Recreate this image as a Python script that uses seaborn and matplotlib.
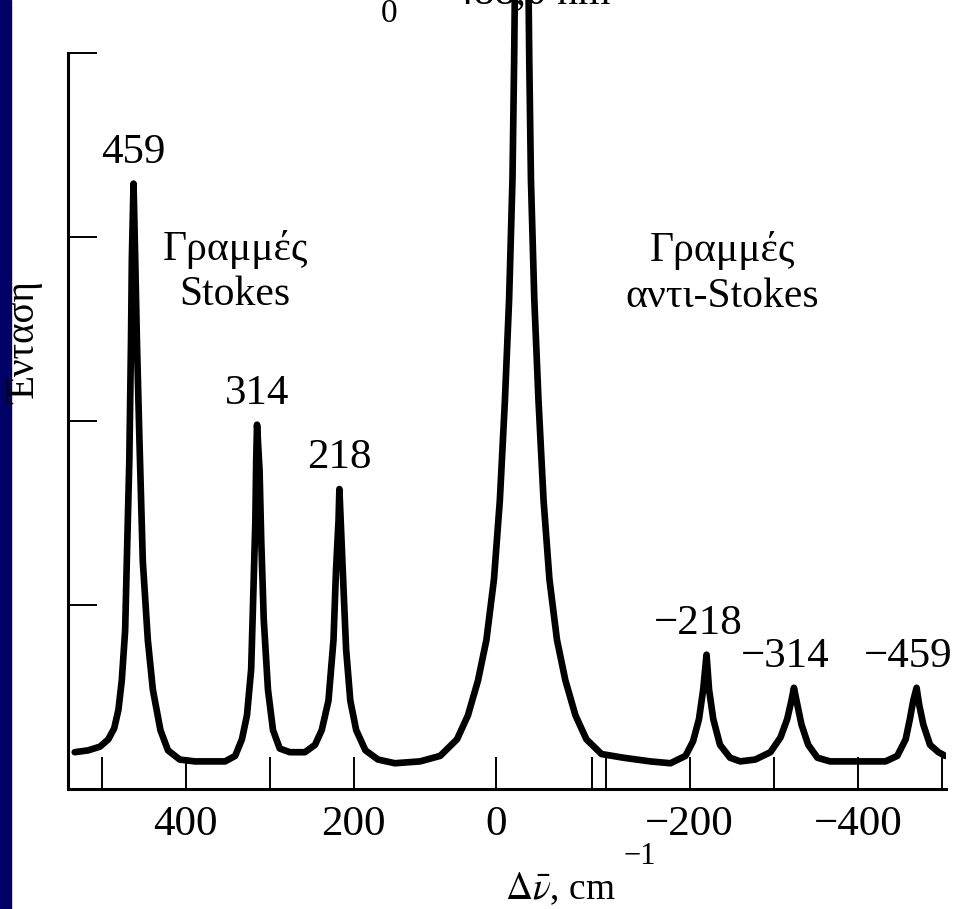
import pandas as pd
import seaborn as sns
import matplotlib.pyplot as plt
from matplotlib.patches import Rectangle

# Raman spectrum (shift in cm^-1, intensity in tick units)
shift = [532, 516, 502, 492, 485, 480, 476, 472, 470, 467, 465, 464, 462, 460, 458,
         455, 451, 445, 439, 430, 421, 407, 389, 353, 341, 333, 327, 322, 320, 317,
         316, 315, 312, 310, 307, 302, 296, 288, 276, 258, 246, 238, 230, 224, 221,
         218, 217, 215, 212, 209, 204, 197, 186, 171, 151, 121, 97, 77, 64, 52,
         42, 33, 26, 20, 15, 11, 9, 8, -8, -9, -11, -15, -20, -26, -33,
         -42, -52, -64, -77, -95, -121, -153, -177, -195, -204, -211, -216, -220, -223, -228,
         -236, -248, -260, -278, -296, -308, -316, -321, -324, -328, -333, -341, -352, -367, -433,
         -447, -457, -462, -466, -470, -473, -478, -486, -496, -504]
intensity = [0.20, 0.21, 0.23, 0.27, 0.33, 0.43, 0.59, 0.86, 1.24, 1.79, 2.44, 2.88, 3.29, 2.88, 2.44,
             1.90, 1.24, 0.81, 0.54, 0.32, 0.21, 0.16, 0.15, 0.15, 0.18, 0.27, 0.40, 0.65, 0.97, 1.46,
             1.79, 1.98, 1.73, 1.35, 0.92, 0.54, 0.32, 0.22, 0.20, 0.20, 0.24, 0.32, 0.48, 0.81, 1.19,
             1.46, 1.63, 1.41, 1.08, 0.76, 0.48, 0.32, 0.21, 0.16, 0.14, 0.15, 0.18, 0.27, 0.40, 0.59,
             0.81, 1.14, 1.57, 2.11, 2.66, 3.31, 3.96, 4.40, 4.40, 3.96, 3.31, 2.66, 2.11, 1.57, 1.14,
             0.81, 0.59, 0.40, 0.27, 0.19, 0.17, 0.15, 0.14, 0.18, 0.26, 0.38, 0.54, 0.73, 0.54, 0.38,
             0.24, 0.17, 0.15, 0.16, 0.20, 0.28, 0.38, 0.48, 0.55, 0.46, 0.35, 0.24, 0.17, 0.15, 0.15,
             0.18, 0.27, 0.38, 0.48, 0.55, 0.46, 0.35, 0.24, 0.20, 0.18]

peak_labels = ['459', '314', '218', '−218', '−314', '−459']
peak_shift = [462, 315, 217, -220, -324, -470]
peak_height = [3.29, 1.98, 1.63, 0.73, 0.55, 0.55]

x_ticks = [500, 400, 300, 200, 30, -84, -100, -200, -300, -400, -500]
x_tick_labels = ['', '400', '', '200', '0', '', '', '−200', '', '−400', '']
y_ticks = [1, 2, 3, 4]

df = pd.DataFrame({'shift': shift, 'intensity': intensity})

sns.set_theme(style='white')
plt.rcParams['font.family'] = ['Liberation Serif', 'DejaVu Serif']
plt.rcParams['mathtext.fontset'] = 'stix'
plt.rcParams['text.color'] = 'black'
plt.rcParams['xtick.color'] = 'black'
plt.rcParams['ytick.color'] = 'black'

W, H = 955, 909
fig = plt.figure(figsize=(W / 100, H / 100), dpi=100)
ax = fig.add_axes([68 / W, (H - 789) / H, (946 - 68) / W, 789 / H])

sns.lineplot(data=df, x='shift', y='intensity', sort=False, estimator=None,
             color='black', linewidth=4.8, ax=ax)

ax.set_xlim(540, -505)
ax.set_ylim(0, 789 / 184)
ax.set_xticks(x_ticks)
ax.set_xticklabels(x_tick_labels, fontsize=31)
ax.set_yticks(y_ticks)
ax.set_yticklabels([])
ax.tick_params(axis='x', bottom=True, direction='in', length=23, width=1.4,
               color='black', labelcolor='black', pad=12)
ax.tick_params(axis='y', left=True, direction='in', length=21, width=1.4, color='black')
for s in ['top', 'right']:
    ax.spines[s].set_visible(False)
for s in ['left', 'bottom']:
    ax.spines[s].set_color('black')
    ax.spines[s].set_linewidth(2.2)
ax.spines['left'].set_bounds(0, 4)
ax.set_xlabel('')
ax.set_ylabel('')

for lab, px, py in zip(peak_labels, peak_shift, peak_height):
    dx = -6 if lab.startswith('−') else 0
    ax.annotate(lab, (px, py), xytext=(dx, 15), textcoords='offset points',
                ha='center', va='baseline', fontsize=31, color='black')

ax.text(341, 2.81, 'Γραμμές\nStokes', ha='center', va='center',
        fontsize=30, linespacing=1.25, color='black')
ax.text(-239, 2.80, 'Γραμμές\nαντι-Stokes', ha='center', va='center',
        fontsize=30, linespacing=1.25, color='black')

# axis titles
fig.text(26 / W, 1 - 343 / H, 'Ένταση', rotation=90, ha='center', va='center', fontsize=28)
fig.text(560 / W, 1 - 899 / H, r'$\Delta\bar{\nu}$, cm', ha='center', va='baseline', fontsize=27)
fig.text(640 / W, 1 - 856 / H, '−1', ha='center', va='center', fontsize=22)

# laser line label, cut off by the top edge
fig.text(453 / W, 1 - 3 / H, '488,0 nm', ha='left', va='baseline', fontsize=30)
fig.text(389 / W, 1 - 22 / H, '0', ha='center', va='baseline', fontsize=24)
fig.text(360 / W, 1 - 0.5 / H, 'λ', ha='center', va='baseline', fontsize=30)

fig.patches.append(Rectangle((0, 0), 11 / W, 1, transform=fig.transFigure,
                             color='#000066', zorder=0))

fig.savefig('out.png', dpi=100)
